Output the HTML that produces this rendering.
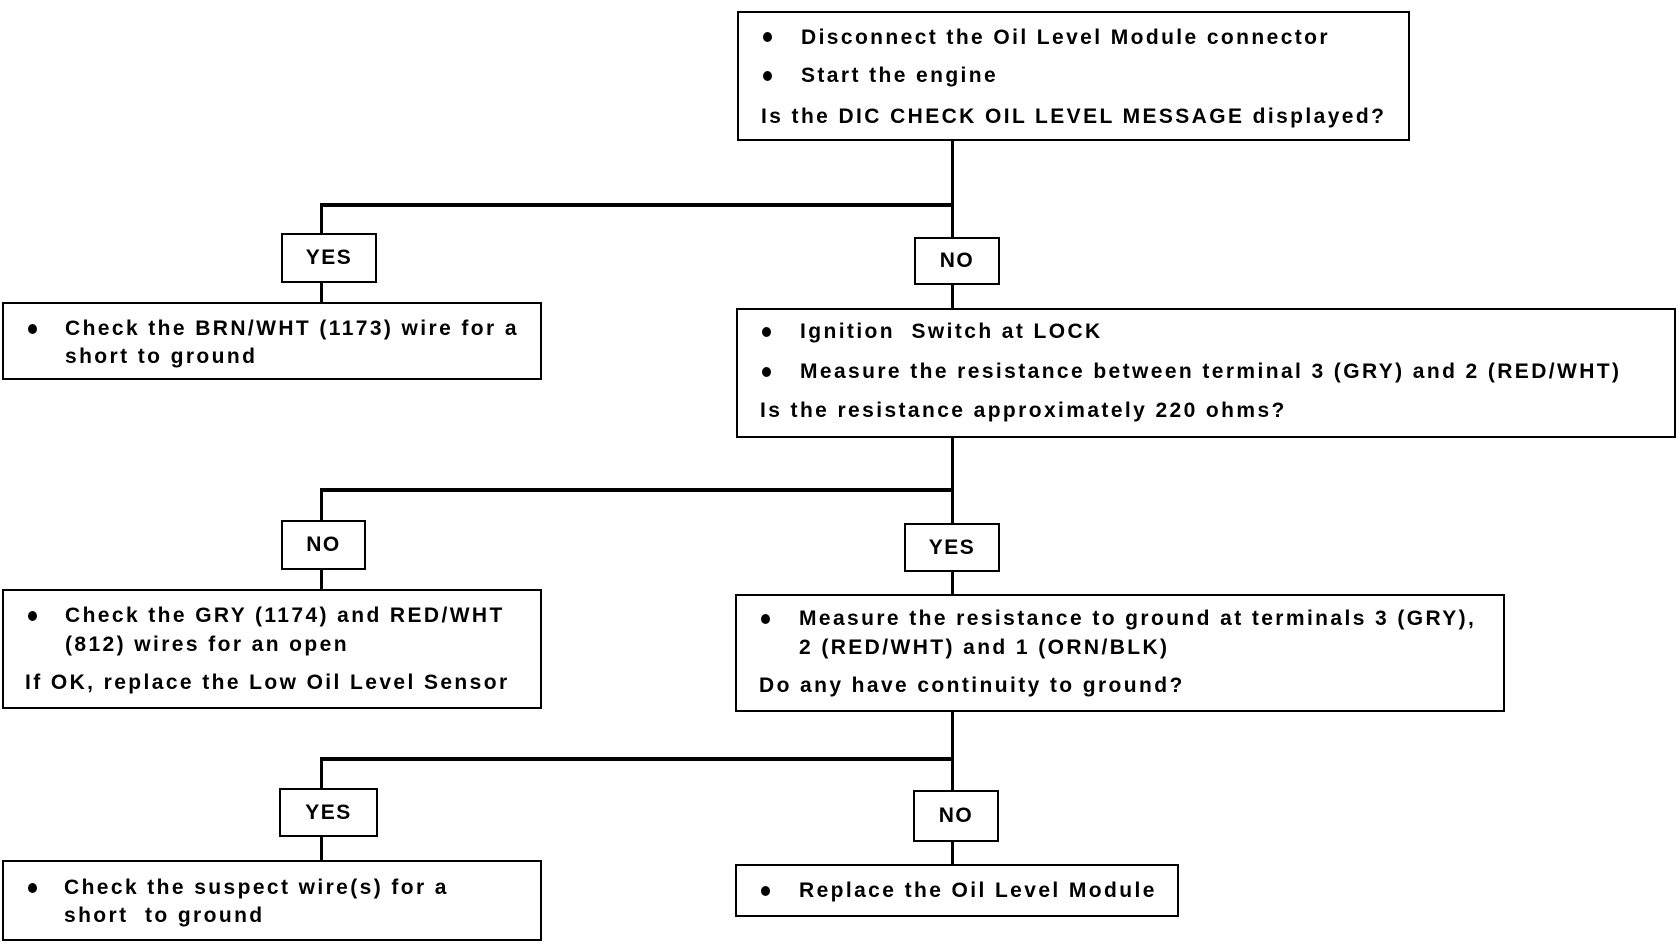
<!DOCTYPE html>
<html><head><meta charset="utf-8"><style>
body{margin:0;width:1678px;height:944px;background:#fff;position:relative;overflow:hidden;font-family:"Liberation Sans",sans-serif;font-weight:bold;color:#000}
.b{position:absolute;border:2.5px solid #000;box-sizing:border-box;background:#fff}
.l{position:absolute;background:#000}
.t{position:absolute;font-size:21px;line-height:24px;white-space:nowrap;letter-spacing:2.4px}
.lab{position:absolute;font-size:21px;letter-spacing:1.5px;display:flex;align-items:center;justify-content:center;border:2.5px solid #000;box-sizing:border-box;background:#fff}
.d{position:absolute;width:9px;height:10px;border-radius:50%;background:#000}
</style></head><body>
<div class="l" style="left:951px;top:140px;width:3px;height:168px"></div>
<div class="l" style="left:320px;top:203px;width:634px;height:4px"></div>
<div class="l" style="left:320px;top:203px;width:3px;height:100px"></div>
<div class="l" style="left:951px;top:438px;width:3px;height:158px"></div>
<div class="l" style="left:320px;top:488px;width:634px;height:4px"></div>
<div class="l" style="left:320px;top:488px;width:3px;height:102px"></div>
<div class="l" style="left:951px;top:710px;width:3px;height:156px"></div>
<div class="l" style="left:320px;top:757px;width:634px;height:4px"></div>
<div class="l" style="left:320px;top:757px;width:3px;height:105px"></div>

<div class="b" style="left:737px;top:11px;width:673px;height:130px"></div>
<div class="b" style="left:2px;top:302px;width:540px;height:78px"></div>
<div class="b" style="left:736px;top:308px;width:940px;height:130px"></div>
<div class="b" style="left:2px;top:589px;width:540px;height:120px"></div>
<div class="b" style="left:735px;top:594px;width:770px;height:118px"></div>
<div class="b" style="left:2px;top:860px;width:540px;height:81px"></div>
<div class="b" style="left:735px;top:864px;width:444px;height:53px"></div>

<div class="lab" style="left:281px;top:233px;width:96px;height:50px">YES</div>
<div class="lab" style="left:914px;top:237px;width:86px;height:48px">NO</div>
<div class="lab" style="left:281px;top:520px;width:85px;height:50px">NO</div>
<div class="lab" style="left:904px;top:523px;width:96px;height:49px">YES</div>
<div class="lab" style="left:279px;top:788px;width:99px;height:49px">YES</div>
<div class="lab" style="left:913px;top:790px;width:86px;height:52px">NO</div>

<div class="d" style="left:763px;top:32px"></div>
<div class="t" style="left:801px;top:26px">Disconnect the Oil Level Module connector</div>
<div class="d" style="left:763px;top:71px"></div>
<div class="t" style="left:801px;top:64px">Start the engine</div>
<div class="t" style="left:761px;top:105px">Is the DIC CHECK OIL LEVEL MESSAGE displayed?</div>

<div class="d" style="left:28px;top:324px"></div>
<div class="t" style="left:65px;top:317px">Check the BRN/WHT (1173) wire for a</div>
<div class="t" style="left:65px;top:345px">short to ground</div>

<div class="d" style="left:762px;top:327px"></div>
<div class="t" style="left:800px;top:320px">Ignition&nbsp; Switch at LOCK</div>
<div class="d" style="left:762px;top:367px"></div>
<div class="t" style="left:800px;top:360px">Measure the resistance between terminal 3 (GRY) and 2 (RED/WHT)</div>
<div class="t" style="left:760px;top:399px">Is the resistance approximately 220 ohms?</div>

<div class="d" style="left:28px;top:611px"></div>
<div class="t" style="left:65px;top:604px">Check the GRY (1174) and RED/WHT</div>
<div class="t" style="left:65px;top:633px">(812) wires for an open</div>
<div class="t" style="left:25px;top:671px">If OK, replace the Low Oil Level Sensor</div>

<div class="d" style="left:761px;top:614px"></div>
<div class="t" style="left:799px;top:607px">Measure the resistance to ground at terminals 3 (GRY),</div>
<div class="t" style="left:799px;top:636px">2 (RED/WHT) and 1 (ORN/BLK)</div>
<div class="t" style="left:759px;top:674px">Do any have continuity to ground?</div>

<div class="d" style="left:28px;top:883px"></div>
<div class="t" style="left:64px;top:876px">Check the suspect wire(s) for a</div>
<div class="t" style="left:64px;top:904px">short&nbsp; to ground</div>

<div class="d" style="left:761px;top:886px"></div>
<div class="t" style="left:799px;top:879px">Replace the Oil Level Module</div>
</body></html>
